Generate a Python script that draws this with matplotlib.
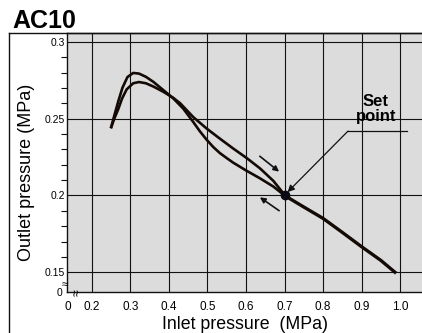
import matplotlib
matplotlib.use("Agg")
import matplotlib.pyplot as plt
from matplotlib.lines import Line2D

plt.rcParams['font.family'] = ['Liberation Sans', 'DejaVu Sans']

# ---- data ----
title = "AC10"
x_label = "Inlet pressure  (MPa)"
y_label = "Outlet pressure (MPa)"

x_ticks = [0.2, 0.3, 0.4, 0.5, 0.6, 0.7, 0.8, 0.9, 1.0]
x_tick_labels = ["0.2", "0.3", "0.4", "0.5", "0.6", "0.7", "0.8", "0.9", "1.0"]
y_ticks = [0.15, 0.2, 0.25, 0.3]
y_tick_labels = ["0.15", "0.2", "0.25", "0.3"]
y_minor = [0.16, 0.17, 0.18, 0.19, 0.21, 0.22, 0.23, 0.24, 0.26, 0.27, 0.28, 0.29]

# branch rising to higher peak, then lower branch to set point
a_x = [0.249, 0.258, 0.268, 0.279, 0.292, 0.307, 0.322, 0.340, 0.360, 0.385,
       0.411, 0.437, 0.463, 0.480, 0.498, 0.515, 0.532, 0.550, 0.567, 0.602,
       0.636, 0.671, 0.700]
a_y = [0.2437, 0.2520, 0.2610, 0.2700, 0.2770, 0.2797, 0.2793, 0.2772, 0.2738, 0.2686,
       0.2632, 0.2565, 0.2478, 0.2418, 0.2362, 0.2315, 0.2276, 0.2243, 0.2213, 0.2160,
       0.2112, 0.2058, 0.2000]
# branch rising to lower peak, then upper branch to set point
b_x = [0.249, 0.258, 0.268, 0.278, 0.290, 0.307, 0.322, 0.340, 0.360, 0.385,
       0.411, 0.429, 0.463, 0.498, 0.532, 0.567, 0.602, 0.636, 0.671, 0.700]
b_y = [0.2437, 0.2500, 0.2560, 0.2630, 0.2690, 0.2730, 0.2738, 0.2730, 0.2708, 0.2675,
       0.2635, 0.2600, 0.2510, 0.2435, 0.2370, 0.2305, 0.2243, 0.2177, 0.2095, 0.2005]
# common line beyond the set point
t_x = [0.700, 0.750, 0.800, 0.850, 0.900, 0.950, 0.990]
t_y = [0.2000, 0.1925, 0.1851, 0.1760, 0.1667, 0.1578, 0.1494]

set_point = (0.70, 0.200)

# ---- figure ----
fig = plt.figure(figsize=(4.22, 3.33), dpi=100)
ax = fig.add_axes([67/422, (333-292.3)/333, 1 - 67/422, (292.3-33)/333])
ax.set_facecolor("#dcdcdc")
ax.set_xlim(0.1351, 1.0571)
ax.set_ylim(0.137, 0.3057)

ax.spines["right"].set_visible(False)
for s in ["left", "bottom", "top"]:
    ax.spines[s].set_linewidth(1.0)
    ax.spines[s].set_color("#111111")

ax.set_xticks(x_ticks)
ax.set_xticklabels(x_tick_labels, fontsize=8.5)
ax.set_yticks(y_ticks)
ax.set_yticklabels(y_tick_labels, fontsize=7.5)
ax.set_yticks(y_minor, minor=True)
ax.tick_params(axis="x", length=0, pad=6.5)
ax.tick_params(axis="y", which="major", length=0, pad=1.5)
ax.tick_params(axis="y", which="minor", length=4, width=0.8, direction="out", color="#111111")
ax.grid(True, which="major", color="#111111", linewidth=0.8)
ax.set_axisbelow(True)

# zero labels and break marks
ax.text(-0.014, -0.003, "0", transform=ax.transAxes, ha="right", va="center", fontsize=7.5)
ax.text(0.003, -0.035, "0", transform=ax.transAxes, ha="center", va="top", fontsize=8.5)
ax.text(-0.006, 0.028, "≈", transform=ax.transAxes, ha="center", va="center", fontsize=8.5)
ax.text(0.031, 0.0, "≈", transform=ax.transAxes, ha="center", va="center", fontsize=9, rotation=90)

line_col = "#140a05"
ax.plot(a_x, a_y, color=line_col, lw=1.9, solid_capstyle="butt", zorder=3)
ax.plot(b_x, b_y, color=line_col, lw=1.9, solid_capstyle="butt", zorder=3)
ax.plot(t_x, t_y, color=line_col, lw=2.4, solid_capstyle="butt", zorder=3)
ax.plot([set_point[0]], [set_point[1]], "o", color="#0a0a14", markersize=6, zorder=4)

# direction arrows
ax.annotate("", xy=(0.686, 0.2155), xytext=(0.636, 0.2255),
            arrowprops=dict(arrowstyle="-|>", color="#111111", lw=1.2,
                            mutation_scale=8, shrinkA=0, shrinkB=0))
ax.annotate("", xy=(0.636, 0.1988), xytext=(0.686, 0.1901),
            arrowprops=dict(arrowstyle="-|>", color="#111111", lw=1.2,
                            mutation_scale=8, shrinkA=0, shrinkB=0))

# set point label and leader
ax.plot([0.865, 1.018], [0.2419, 0.2419], color="#111111", lw=0.9, zorder=3)
ax.annotate("", xy=(0.708, 0.2022), xytext=(0.865, 0.2419),
            arrowprops=dict(arrowstyle="-|>", color="#111111", lw=0.9,
                            mutation_scale=10, shrinkA=0, shrinkB=0))
ax.text(0.937, 0.2462, "Set\npoint", ha="center", va="bottom", fontsize=12,
        fontweight="bold", linespacing=1.0, zorder=5)

ax.set_xlabel(x_label, fontsize=12.8)
ax.set_ylabel(y_label, fontsize=13)
ax.xaxis.set_label_coords((245.5-67)/355, -(316-292.3)/259.3)
ax.yaxis.set_label_coords(-(67-35)/355, (292.3-172.5)/259.3)

fig.text(12/422, 1 - 28/333, title, fontsize=18, fontweight="bold", ha="left", va="baseline")

# outer frame
fig.add_artist(Line2D([9/422, 9/422], [0, 1 - 33/333], color="#111111", lw=1.0,
                      transform=fig.transFigure))
fig.add_artist(Line2D([9/422, 1], [1 - 33/333, 1 - 33/333], color="#111111", lw=1.0,
                      transform=fig.transFigure))

fig.savefig("out.png", dpi=100)
